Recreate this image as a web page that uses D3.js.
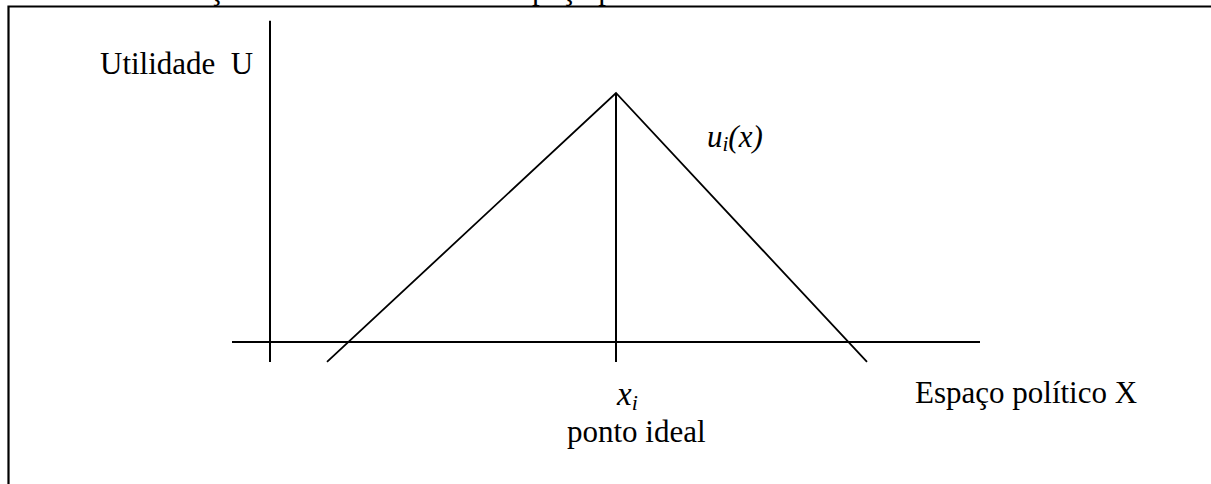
<!DOCTYPE html>
<html>
<head>
<meta charset="utf-8">
<script src="https://cdn.jsdelivr.net/npm/d3@7"></script>
<style>
  html, body { margin: 0; padding: 0; background: #fff; }
  svg { display: block; }
  text { font-family: "Liberation Serif", "Times New Roman", serif; fill: #000; }
</style>
</head>
<body>
<svg id="chart" width="1211" height="484"></svg>
<script>
// ---- data (diagram values in model units) ----
const utilityX = [-2.89, 0, 2.51];      // political-space positions of the tent utility curve
const utilityU = [-0.08, 1, -0.08];     // utility values at those positions
const idealPoint = 0;                   // x_i
const peakUtility = 1;
const spaceExtent = [-3.84, 3.64];      // horizontal axis extent
const utilityExtent = [-0.08, 1.29];    // vertical axis extent
const utilityAxisAt = -3.46;            // position of the utility axis on X
const tickDrop = -0.08;                 // how far axis/ideal lines go below 0
const labels = {
  caption: "Gráfico 1 – Função de utilidade em um espaço político",
  yTitle: "Utilidade\u00a0\u00a0U",
  xTitle: "Espaço político X",
  curve: ["u", "i", "(x)"],
  ideal: ["x", "i"],
  idealName: "ponto ideal"
};

const svg = d3.select("#chart");
const x = d3.scaleLinear().domain([-3.84, 3.64]).range([232, 980]);
const y = d3.scaleLinear().domain([0, 1]).range([342, 93]);

// frame (page border)
svg.append("path")
  .attr("d", "M8.5,484 L8.5,6.5 L1211,6.5")
  .attr("fill", "none").attr("stroke", "#000").attr("stroke-width", 2.2);

// partially visible caption above the frame
const cap = svg.append("text")
  .attr("y", -1.5)
  .attr("font-size", 31)
  .text(labels.caption);
const node = cap.node();
const ci = labels.caption.indexOf("ç");
const pre = node.getSubStringLength(0, ci);
const cw = node.getSubStringLength(ci, 1);
cap.attr("x", 216 - pre - cw / 2);

const g = svg.append("g").attr("stroke", "#000").attr("fill", "none");

// horizontal axis
g.append("line")
  .attr("x1", x(spaceExtent[0])).attr("x2", x(spaceExtent[1]))
  .attr("y1", y(0)).attr("y2", y(0))
  .attr("stroke-width", 2);

// vertical axis
g.append("line")
  .attr("x1", x(utilityAxisAt)).attr("x2", x(utilityAxisAt))
  .attr("y1", y(utilityExtent[1])).attr("y2", y(utilityExtent[0]))
  .attr("stroke-width", 2);

// ideal point vertical
g.append("line")
  .attr("x1", x(idealPoint)).attr("x2", x(idealPoint))
  .attr("y1", y(peakUtility)).attr("y2", y(tickDrop))
  .attr("stroke-width", 2);

// utility tent
const line = d3.line().x((d) => x(d[0])).y((d) => y(d[1]));
g.append("path")
  .attr("d", line(d3.zip(utilityX, utilityU)))
  .attr("stroke-width", 1.8)
  .attr("stroke-linejoin", "miter");

// labels
svg.append("text")
  .attr("x", 100).attr("y", 74)
  .attr("font-size", 31)
  .text(labels.yTitle);

svg.append("text")
  .attr("x", 915).attr("y", 403)
  .attr("font-size", 31)
  .text(labels.xTitle);

const ct = svg.append("text")
  .attr("x", 707).attr("y", 147)
  .attr("font-size", 31)
  .attr("font-style", "italic");
ct.append("tspan").text(labels.curve[0]);
ct.append("tspan").attr("font-size", 21).attr("dy", 4).text(labels.curve[1]);
ct.append("tspan").attr("dy", -4).text(labels.curve[2]);

const it = svg.append("text")
  .attr("x", 617).attr("y", 405)
  .attr("font-size", 33)
  .attr("font-style", "italic");
it.append("tspan").text(labels.ideal[0]);
it.append("tspan").attr("font-size", 22).attr("dy", 5).text(labels.ideal[1]);

svg.append("text")
  .attr("x", 567).attr("y", 442)
  .attr("font-size", 31)
  .text(labels.idealName);
</script>
</body>
</html>
